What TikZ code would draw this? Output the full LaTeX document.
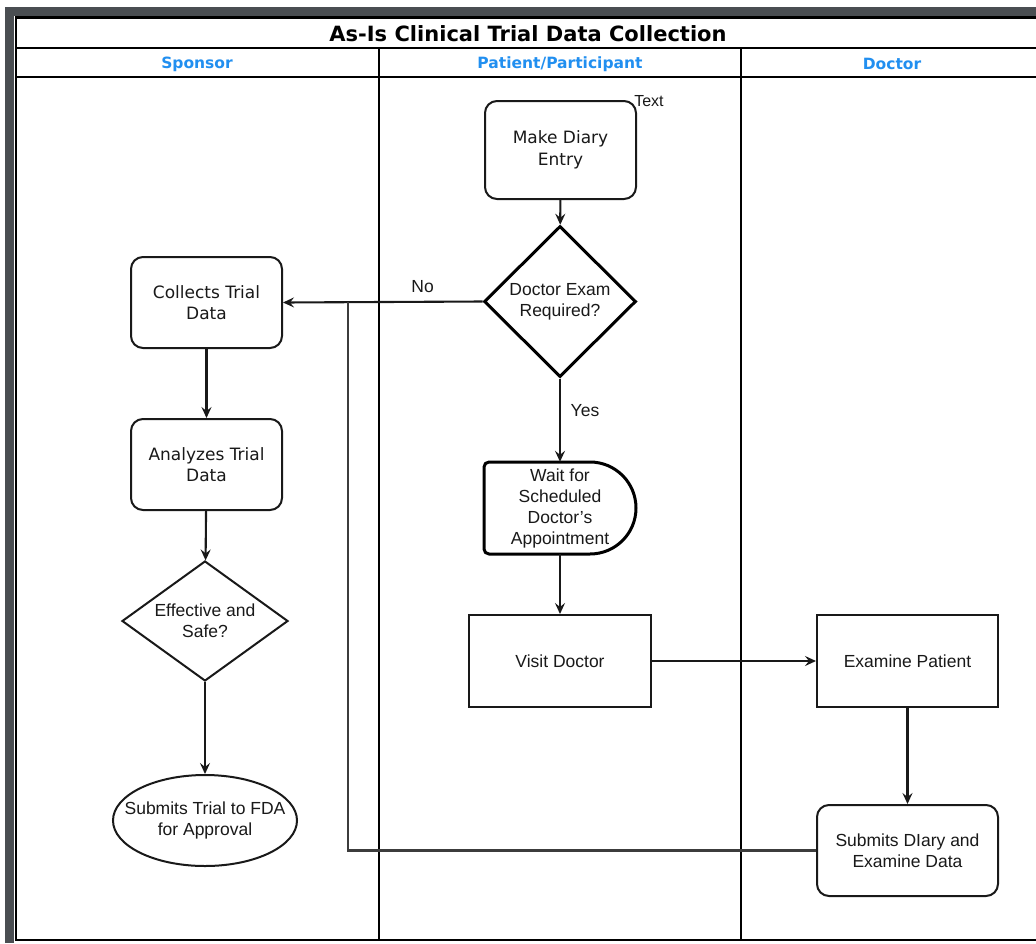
\documentclass[tikz,border=0pt]{standalone}
\usepackage{fontspec}
\setmainfont{Liberation Sans}
\newfontfamily\verd{DejaVu Sans}
\usetikzlibrary{shapes.geometric,arrows.meta}
\definecolor{framegray}{RGB}{74,78,82}
\definecolor{laneblue}{RGB}{33,143,240}
\definecolor{ink}{RGB}{25,25,25}
\begin{document}
\begin{tikzpicture}[x=1pt,y=-1pt,
  lane/.style={line width=2.6pt, draw=black},
  vbox/.style={draw=ink, line width=2pt, rounded corners=12pt, minimum width=151pt,
    minimum height=91pt, align=center, text=ink, font=\verd\fontsize{17}{21.5}\selectfont},
  abox/.style={draw=ink, line width=2pt, minimum width=181pt, minimum height=92pt,
    align=center, text=ink, font=\fontsize{17.5}{21}\selectfont},
  dec/.style={draw=ink, shape=diamond, inner sep=0pt, align=center, text=ink,
    font=\fontsize{17.5}{21}\selectfont},
  hdr/.style={text=laneblue, font=\verd\bfseries\fontsize{15.5}{18}\selectfont},
  lbl/.style={text=ink, font=\fontsize{17.5}{21}\selectfont},
  arr/.style={draw=ink, line width=2.1pt, -{Stealth[length=11pt,width=10pt,inset=4pt]}},
  link/.style={draw=ink!85, line width=2.1pt}]
\useasboundingbox (0,0) rectangle (1036,943);
\fill[white] (0,0) rectangle (1036,943);

% outer window frame
\fill[framegray] (5,7) rectangle (1036,16);
\fill[framegray] (5,7) rectangle (14,943);

% pool outline, title row and lane header row
\draw[lane] (1036,17.5) -- (16,17.5) -- (16,940) -- (1036,940);
\draw[lane] (16,48) -- (1036,48);
\draw[lane] (16,77) -- (1036,77);
\draw[lane] (379,48) -- (379,940);
\draw[lane] (741,48) -- (741,940);

\node[font=\verd\bfseries\fontsize{21}{24}\selectfont] (title) at (528,33.5) {As-Is Clinical Trial Data Collection};
\node[hdr] (hsponsor) at (197,64) {Sponsor};
\node[hdr] (hpatient) at (560,64) {Patient/Participant};
\node[hdr] (hdoctor) at (892,64) {Doctor};

% patient lane
\node[vbox, minimum height=98pt] (diary) at (560.5,150) {\raisebox{-3pt}{\parbox{140pt}{\centering Make Diary\\Entry}}};
\node[lbl, font=\fontsize{16}{19}\selectfont] (tag) at (649,101) {Text};
\node[dec, line width=3pt, draw=black, aspect=1, minimum width=152pt, minimum height=151pt] (exam) at (560,301.5) {Doctor Exam\\Required?};
\node[align=center, text=ink, font=\fontsize{17.5}{21}\selectfont, minimum width=152pt, minimum height=92pt] (wait) at (560,508) {Wait for\\Scheduled\\Doctor's\\Appointment};
\draw[line width=3pt, line join=round] (590,462) [rounded corners=5pt]-- (484,462) -- (484,554) [sharp corners]-- (590,554)
  arc[start angle=90, end angle=-90, radius=46] -- cycle;
\node[abox, minimum width=182pt] (visit) at (560,661) {Visit Doctor};

% doctor lane
\node[abox] (examine) at (907.5,661) {Examine Patient};
\node[vbox, minimum width=181pt, font=\fontsize{17.5}{21}\selectfont] (sde) at (907.5,850.5) {Submits DIary and\\Examine Data};

% sponsor lane
\node[vbox] (collects) at (206.5,302.5) {Collects Trial\\Data};
\node[vbox] (analyzes) at (206.5,464.5) {Analyzes Trial\\Data};
\node[dec, line width=2pt, aspect=1.383, minimum width=166pt, minimum height=120pt] (effective) at (205,621) {Effective and\\Safe?};
\node[draw=ink, line width=2pt, ellipse, inner xsep=-20pt, inner ysep=0pt, minimum width=184pt, minimum height=91pt,
  align=center, text=ink, font=\fontsize{17.5}{21}\selectfont] (fda) at (205,820.5) {Submits Trial to FDA\\for Approval};

% flow
\draw[arr] (diary) -- (exam);
\draw[arr] (exam.west) -- node[lbl, pos=0.3, yshift=15pt] (no) {No} (collects.east);
\draw[arr] (exam) -- node[lbl, pos=0.38, xshift=25pt] (yes) {Yes} (wait);
\draw[arr] (wait) -- (visit);
\draw[arr] (visit) -- (examine);
\draw[arr] (examine) -- (sde);
\coordinate (join) at (348,301.5);
\draw[link] (sde.west) -| (join);
\draw[arr] (collects) -- (analyzes);
\draw[arr] (analyzes) -- (effective);
\draw[arr] (effective) -- (fda);
\end{tikzpicture}
\end{document}
